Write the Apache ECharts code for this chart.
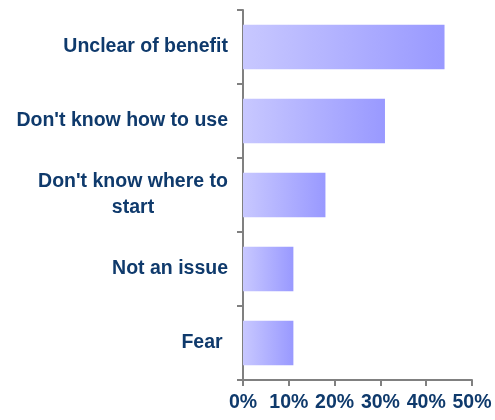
<!DOCTYPE html>
<html>
<head>
<meta charset="utf-8">
<script src="https://cdn.jsdelivr.net/npm/echarts@6/dist/echarts.min.js"></script>
<style>
  html, body { margin: 0; padding: 0; background: #ffffff; }
  #chart { width: 495px; height: 420px; }
</style>
</head>
<body>
<div id="chart"></div>
<script>
// Barriers, top to bottom
const categories = ['Unclear of benefit', "Don't know how to use", "Don't know where to\nstart", 'Not an issue', 'Fear '];
// Share of respondents (%)
const values = [44, 31, 18, 11, 11];
// Percentage axis ticks
const tickValues = [0, 10, 20, 30, 40, 50];

const textColor = '#0f3a6c';
const axisGray = '#808080';
const labelFont = 'Liberation Sans, Arial, sans-serif';
const labelSize = 19.5;

const chart = echarts.init(document.getElementById('chart'), null, { renderer: 'canvas' });

chart.setOption({
  animation: false,
  backgroundColor: '#ffffff',
  grid: { left: 243, right: 23, top: 10, bottom: 40, containLabel: false },
  xAxis: {
    type: 'value',
    min: tickValues[0],
    max: tickValues[tickValues.length - 1],
    interval: tickValues[1] - tickValues[0],
    splitLine: { show: false },
    axisLine: { show: true, lineStyle: { color: axisGray, width: 2 } },
    axisTick: { show: true, length: 6, lineStyle: { color: axisGray, width: 2 } },
    axisLabel: {
      margin: 13,
      color: textColor,
      fontFamily: labelFont,
      fontWeight: 'bold',
      fontSize: labelSize,
      formatter: v => v + '%'
    }
  },
  yAxis: {
    type: 'category',
    inverse: true,
    data: categories,
    axisLine: { show: true, lineStyle: { color: axisGray, width: 2 } },
    axisTick: { show: true, length: 6, lineStyle: { color: axisGray, width: 2 } },
    axisLabel: {
      margin: 15,
      color: textColor,
      fontFamily: labelFont,
      fontWeight: 'bold',
      fontSize: labelSize,
      lineHeight: 26,
      // two-line labels: each line centred under the longest one
      formatter: function (v) {
        if (v.indexOf('\n') >= 0) {
          return v.split('\n').map(s => '{c|' + s + '}').join('\n');
        }
        return v;
      },
      rich: {
        c: {
          width: 190,
          align: 'center',
          color: textColor,
          fontFamily: labelFont,
          fontWeight: 'bold',
          fontSize: labelSize,
          lineHeight: 26
        }
      }
    }
  },
  series: [{
    type: 'bar',
    data: values,
    barCategoryGap: '40%',
    itemStyle: {
      color: new echarts.graphic.LinearGradient(0, 0, 1, 0, [
        { offset: 0, color: '#c8c8ff' },
        { offset: 1, color: '#9999ff' }
      ])
    }
  }]
});
</script>
</body>
</html>
